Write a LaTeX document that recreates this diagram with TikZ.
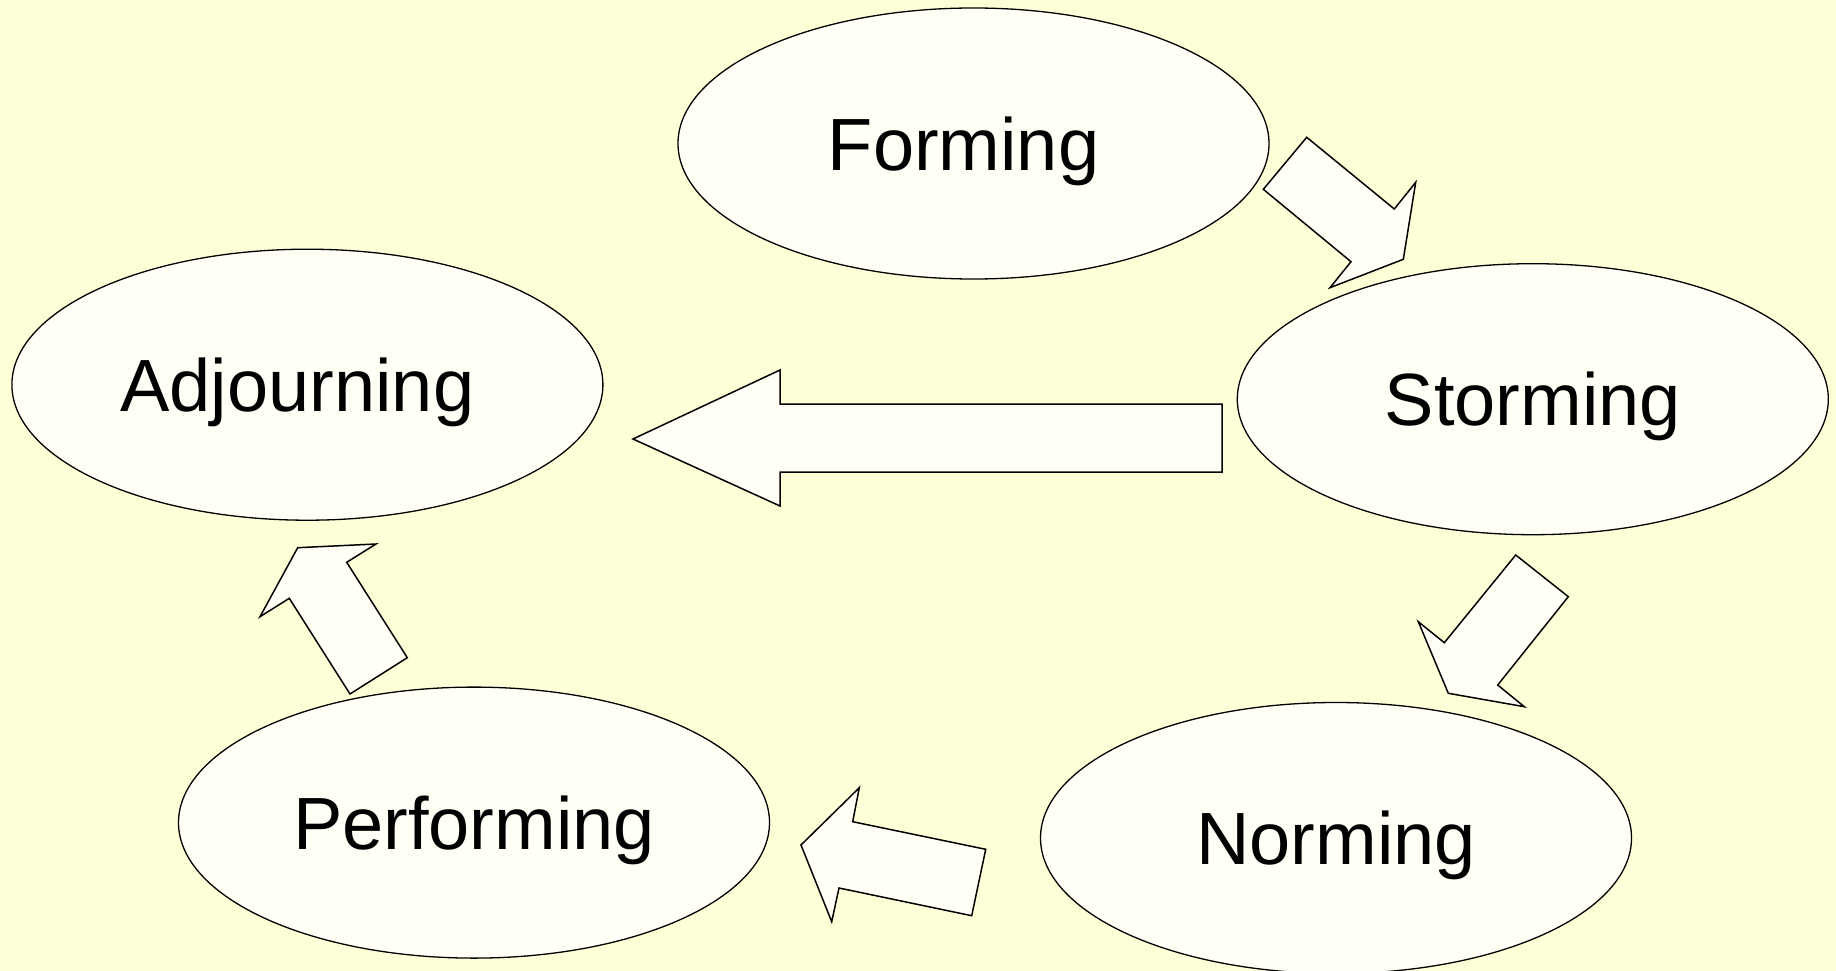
\documentclass[tikz,border=0pt]{standalone}
\usepackage{fontspec}
\setmainfont{Liberation Sans}
\usetikzlibrary{shapes.geometric}
\definecolor{bg}{RGB}{255,255,215}
\definecolor{shapefill}{RGB}{255,255,246}
\begin{document}
\begin{tikzpicture}[x=1pt,y=-1pt,
  stage/.style={ellipse, draw, line width=1.3pt, fill=shapefill,
    minimum width=591pt, minimum height=271pt, inner sep=0pt,
    font=\fontsize{74}{80}\selectfont, text height=53pt, text depth=0pt},
  blockarrow/.style={draw, line width=1.5pt, fill=shapefill, line join=miter}]
\fill[bg] (0,0) rectangle (1836,971);
\useasboundingbox (0,0) rectangle (1836,971);

\node[stage] (forming)    at (973.5,143.5) {Forming\hspace*{20pt}};
\node[stage] (storming)   at (1532.8,399.2) {Storming};
\node[stage] (norming)    at (1336,838) {Norming};
\node[stage] (performing) at (474,822.6) {Performing};
\node[stage] (adjourning) at (307.4,384.7) {Adjourning\hspace*{20pt}};

% Forming -> Storming
\draw[blockarrow] (1306.7,137.3) -- (1394.3,209) -- (1415.7,182.3) -- (1403.3,259.3)
  -- (1330,287.7) -- (1351,261.7) -- (1263.3,189.3) -- cycle;
% Storming -> Adjourning
\draw[blockarrow] (633,439) -- (780,370) -- (780,404) -- (1222,404) -- (1222,472)
  -- (780,472) -- (780,506) -- cycle;
% Storming -> Norming
\draw[blockarrow] (1515.7,555) -- (1568.3,596.7) -- (1497.7,685) -- (1524.3,706.7)
  -- (1448.3,693.3) -- (1418.3,621.7) -- (1444.3,642.7) -- cycle;
% Norming -> Performing
\draw[blockarrow] (801,845) -- (859.3,787.7) -- (852.7,821.7) -- (985.7,849.3)
  -- (971.7,915.7) -- (839,888) -- (831.7,921.7) -- cycle;
% Performing -> Adjourning
\draw[blockarrow] (297.7,547.7) -- (376,544) -- (346.7,562.3) -- (407.3,657.7)
  -- (350,694) -- (289.3,598.3) -- (260,616.7) -- cycle;
\end{tikzpicture}
\end{document}
